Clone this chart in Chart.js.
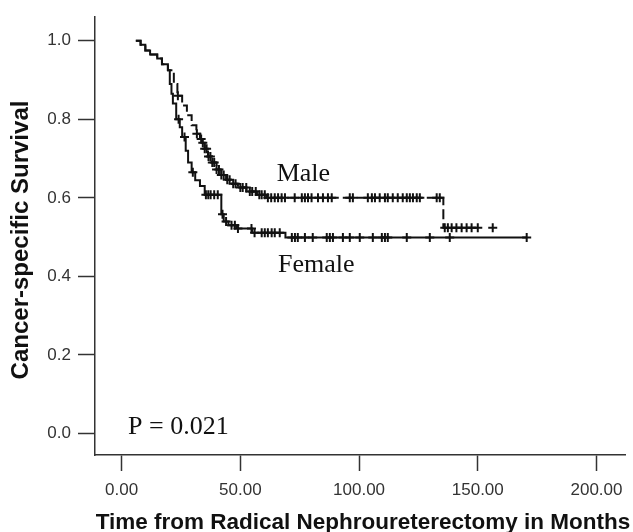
<!DOCTYPE html>
<html>
<head>
<meta charset="utf-8">
<script src="https://cdn.jsdelivr.net/npm/chart.js@4/dist/chart.umd.min.js"></script>
<style>
  html, body { margin: 0; padding: 0; background: #fff; }
  #wrap { width: 633px; height: 532px; position: relative; }
</style>
</head>
<body>
<div id="wrap"><canvas id="km"></canvas></div>
<script>
// Kaplan-Meier steps (months, survival)
const femaleTimes = [6, 8, 10, 12, 15, 17, 19.5, 20.3, 21, 21.6, 23, 24.5, 25.5, 27, 28, 29.5, 31, 33, 35, 42, 43, 45, 48.5, 55, 69, 170.6];
const femaleSurv  = [1.0, 0.99, 0.975, 0.965, 0.955, 0.94, 0.925, 0.89, 0.865, 0.84, 0.80, 0.78, 0.755, 0.72, 0.69, 0.665, 0.645, 0.63, 0.608, 0.558, 0.54, 0.53, 0.522, 0.511, 0.499, 0.499];
const maleTimes = [6, 8, 10, 12, 15, 17, 19.5, 22, 23.5, 25.5, 27.5, 29.5, 31.5, 33, 34, 35, 36.4, 38, 40, 42, 44, 46, 49, 52.6, 57, 61, 135.5, 150];
const maleSurv  = [1.0, 0.99, 0.975, 0.965, 0.955, 0.94, 0.925, 0.89, 0.86, 0.835, 0.81, 0.785, 0.763, 0.75, 0.74, 0.725, 0.705, 0.69, 0.672, 0.658, 0.646, 0.636, 0.626, 0.616, 0.608, 0.60, 0.524, 0.524];

// censored observations (months)
const femaleCensored = [24, 26.5, 30, 35.5, 36.5, 37.5, 39, 40.5, 42.5, 44, 46.3, 47.7, 49, 54.7, 56, 59, 60.3, 61.6, 63.2, 64.5, 66.6,
  71.7, 73, 74.2, 77.2, 80.5, 86.4, 87.7, 89, 93.2, 96.1, 100.3, 105.8, 109.6, 110.9, 112.1, 120.1, 129.8, 138.2, 170.6];
const maleCensored = [23.7, 31.7, 33.5, 34.2, 35, 35.8, 36.6, 37.4, 38.2, 39, 40, 41, 42, 43, 44.5, 45.5, 47, 48, 50, 51, 52.5, 54, 55, 56.5, 58, 59,
  60.3, 61.6, 63, 64.5, 65.9, 67.4, 68.8, 72.9, 75.9, 77.2, 78.5, 80, 82.7, 84.8, 86.9, 88.5, 96.1, 97.4, 103.7, 105.4, 106.7, 108.7,
  110.9, 112.1, 114.2, 116.3, 118.4, 120.1, 121.4, 122.7, 124.3, 125.6, 132.7, 134, 136.1, 137.4, 139, 141, 143.2, 145.3, 147.4, 150, 156.3];

const xTicks = [0, 50, 100, 150, 200];
const yTicks = [0, 0.2, 0.4, 0.6, 0.8, 1.0];

function survAt(times, surv, t) {
  let s = surv[0];
  for (let i = 0; i < times.length; i++) if (times[i] <= t) s = surv[i];
  return s;
}
const steps = (times, surv) => times.map((t, i) => ({ x: t, y: surv[i] }));
const marks = (cens, times, surv) => cens.map(t => ({ x: t, y: survAt(times, surv, t) }));

const INK = '#111';
const SANS = '"Liberation Sans", Arial, sans-serif';
const SERIF = '"Liberation Serif", "Times New Roman", serif';

const labelsPlugin = {
  id: 'labels',
  afterDraw(chart) {
    const { ctx, scales: { x, y } } = chart;
    ctx.save();
    ctx.fillStyle = INK;
    ctx.textBaseline = 'alphabetic';
    ctx.font = '26px ' + SERIF;
    ctx.textAlign = 'left';
    ctx.fillText('Male', x.getPixelForValue(65.3), y.getPixelForValue(0.643));
    ctx.fillText('Female', x.getPixelForValue(65.9), y.getPixelForValue(0.411));
    ctx.fillText('P = 0.021', x.getPixelForValue(2.7), y.getPixelForValue(-0.002));

    ctx.font = 'bold 22.5px ' + SANS;
    ctx.textAlign = 'center';
    ctx.fillText('Time from Radical Nephroureterectomy in Months', 363, 529);

    ctx.translate(28, 240);
    ctx.rotate(-Math.PI / 2);
    ctx.font = 'bold 24px ' + SANS;
    ctx.fillText('Cancer-specific Survival', 0, 0);
    ctx.restore();
  }
};

new Chart(document.getElementById('km'), {
  type: 'line',
  data: {
    datasets: [
      { label: 'Female', data: steps(femaleTimes, femaleSurv), stepped: true, borderColor: INK, borderWidth: 2, pointRadius: 0, fill: false },
      { label: 'Male', data: steps(maleTimes, maleSurv), stepped: true, borderColor: INK, borderWidth: 2, borderDash: [10, 4], pointRadius: 0, fill: false },
      { type: 'scatter', label: 'Female censored', data: marks(femaleCensored, femaleTimes, femaleSurv), pointStyle: 'cross', pointRadius: 4.5, borderColor: INK, borderWidth: 2, showLine: false },
      { type: 'scatter', label: 'Male censored', data: marks(maleCensored, maleTimes, maleSurv), pointStyle: 'cross', pointRadius: 4.5, borderColor: INK, borderWidth: 2, showLine: false }
    ]
  },
  options: {
    responsive: true,
    maintainAspectRatio: false,
    animation: false,
    layout: { padding: { top: 8, right: 8, left: 0, bottom: 0 } },
    plugins: { legend: { display: false }, tooltip: { enabled: false } },
    scales: {
      x: {
        type: 'linear', min: -11.2, max: 212,
        afterFit: (s) => { s.height = 77; },
        afterBuildTicks: (s) => { s.ticks = xTicks.map(v => ({ value: v })); },
        ticks: { color: '#333', font: { family: SANS, size: 17 }, padding: 9, maxRotation: 0, callback: (v) => Number(v).toFixed(2) },
        grid: { drawOnChartArea: false, drawTicks: true, tickLength: 16, tickColor: '#333', tickWidth: 1.5 },
        border: { display: true, color: '#333', width: 1.5 }
      },
      y: {
        type: 'linear', min: -0.055, max: 1.06,
        afterFit: (s) => { s.width = 95; },
        afterBuildTicks: (s) => { s.ticks = yTicks.map(v => ({ value: v })); },
        ticks: { color: '#333', font: { family: SANS, size: 17 }, padding: 7, callback: (v) => Number(v).toFixed(1) },
        grid: { drawOnChartArea: false, drawTicks: true, tickLength: 17, tickColor: '#333', tickWidth: 1.5 },
        border: { display: true, color: '#333', width: 1.5 }
      }
    }
  },
  plugins: [labelsPlugin]
});
</script>
</body>
</html>
